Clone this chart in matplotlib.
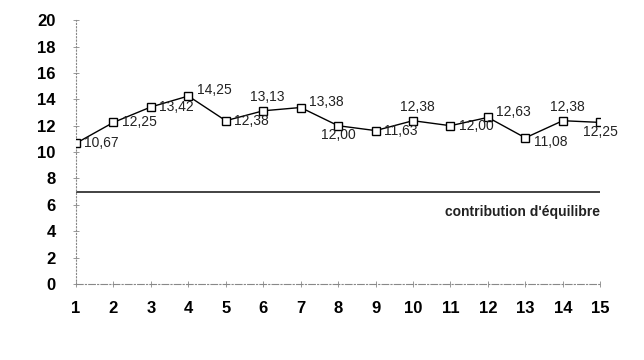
import matplotlib.pyplot as plt

# data
periods = list(range(1, 16))
values = [10.67, 12.25, 13.42, 14.25, 12.38, 13.13, 13.38, 12.00,
          11.63, 12.38, 12.00, 12.63, 11.08, 12.38, 12.25]
labels = ["10,67", "12,25", "13,42", "14,25", "12,38", "13,13", "13,38", "12,00",
          "11,63", "12,38", "12,00", "12,63", "11,08", "12,38", "12,25"]
equilibrium = 7

# where each value label sits relative to its point (offset in points, ha)
label_pos = ["r", "r", "r", "ra", "r", "a", "ra", "b",
             "r", "a", "r", "ra", "rb", "a", "b"]
offsets = {
    "r": ((6, -5), "left"),
    "ra": ((6, -1), "left"),
    "rb": ((6, -8), "left"),
    "a": ((3, 5), "center"),
    "b": ((0, -12), "center"),
}

plt.rcParams['font.family'] = ['Liberation Sans', 'DejaVu Sans']

fig = plt.figure(figsize=(6.44, 3.6), dpi=100)
ax = fig.add_axes([0.118, 0.211, 0.814, 0.733])

ax.plot(periods, values, color='black', linewidth=1.0, marker='s',
        markersize=6, markerfacecolor='white', markeredgecolor='black',
        markeredgewidth=1.0, zorder=3)

for x, y, lab, pos in zip(periods, values, labels, label_pos):
    (dx, dy), ha = offsets[pos]
    ax.annotate(lab, (x, y), xytext=(dx, dy), textcoords='offset points',
                ha=ha, va='bottom', fontsize=10, color='#222222')

ax.plot([periods[0], periods[-1]], [equilibrium, equilibrium],
        color='#222222', linewidth=1.2)
ax.text(periods[-1], equilibrium - 1.0, "contribution d'équilibre",
        ha='right', va='top', fontsize=10, fontweight='bold', color='#222222')

ax.set_xlim(1, 15)
ax.set_ylim(0, 20)
ax.set_xticks(periods)
ax.set_yticks(range(0, 21, 2))

for side in ['top', 'right']:
    ax.spines[side].set_visible(False)
ax.spines['left'].set_linestyle((0, (1, 2)))
ax.spines['left'].set_color('#888888')
ax.spines['left'].set_linewidth(0.8)
ax.spines['bottom'].set_linestyle((0, (6, 2, 1, 2)))
ax.spines['bottom'].set_color('#888888')
ax.spines['bottom'].set_linewidth(0.8)

ax.tick_params(axis='both', direction='inout', length=5, width=0.6,
               color='#888888', labelsize=12, pad=10)
ax.tick_params(axis='y', pad=12)
for lab in ax.get_xticklabels() + ax.get_yticklabels():
    lab.set_fontweight('bold')

fig.savefig('out.png', dpi=100)
